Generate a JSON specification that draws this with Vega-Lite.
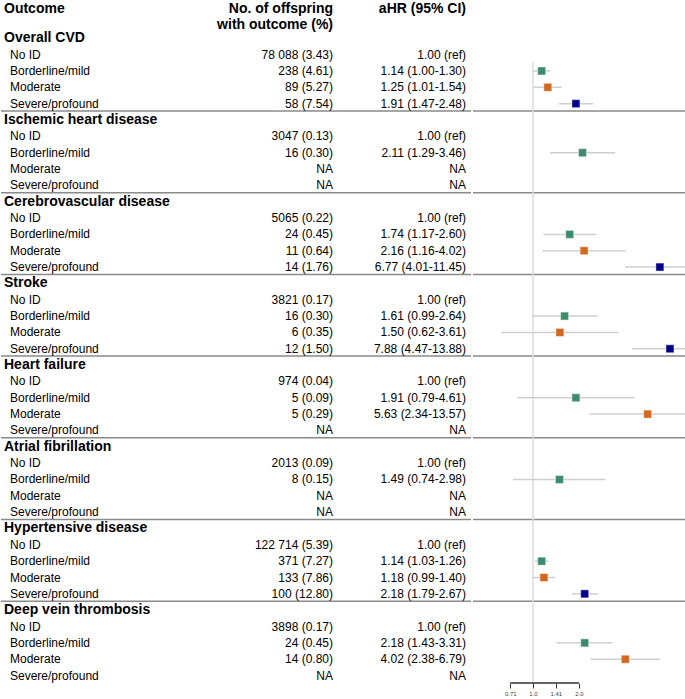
{
  "$schema": "https://vega.github.io/schema/vega-lite/v6.json",
  "padding": 0,
  "spacing": 0,
  "background": "white",
  "config": {"view": {"stroke": null}, "font": "Liberation Sans", "text": {"font": "Liberation Sans", "color": "#000"}},
  "datasets": {
    "rows": [
      {"row": 0, "kind": "head", "label": "Overall CVD"},
      {"row": 1, "kind": "sub", "label": "No ID", "n": "78 088 (3.43)", "ahr": "1.00 (ref)"},
      {"row": 2, "kind": "sub", "label": "Borderline/mild", "n": "238 (4.61)", "ahr": "1.14 (1.00-1.30)", "est": 1.14, "lo": 1.00, "hi": 1.30},
      {"row": 3, "kind": "sub", "label": "Moderate", "n": "89 (5.27)", "ahr": "1.25 (1.01-1.54)", "est": 1.25, "lo": 1.01, "hi": 1.54},
      {"row": 4, "kind": "sub", "label": "Severe/profound", "n": "58 (7.54)", "ahr": "1.91 (1.47-2.48)", "est": 1.91, "lo": 1.47, "hi": 2.48},
      {"row": 5, "kind": "head", "label": "Ischemic heart disease"},
      {"row": 6, "kind": "sub", "label": "No ID", "n": "3047 (0.13)", "ahr": "1.00 (ref)"},
      {"row": 7, "kind": "sub", "label": "Borderline/mild", "n": "16 (0.30)", "ahr": "2.11 (1.29-3.46)", "est": 2.11, "lo": 1.29, "hi": 3.46},
      {"row": 8, "kind": "sub", "label": "Moderate", "n": "NA", "ahr": "NA"},
      {"row": 9, "kind": "sub", "label": "Severe/profound", "n": "NA", "ahr": "NA"},
      {"row": 10, "kind": "head", "label": "Cerebrovascular disease"},
      {"row": 11, "kind": "sub", "label": "No ID", "n": "5065 (0.22)", "ahr": "1.00 (ref)"},
      {"row": 12, "kind": "sub", "label": "Borderline/mild", "n": "24 (0.45)", "ahr": "1.74 (1.17-2.60)", "est": 1.74, "lo": 1.17, "hi": 2.60},
      {"row": 13, "kind": "sub", "label": "Moderate", "n": "11 (0.64)", "ahr": "2.16 (1.16-4.02)", "est": 2.16, "lo": 1.16, "hi": 4.02},
      {"row": 14, "kind": "sub", "label": "Severe/profound", "n": "14 (1.76)", "ahr": "6.77 (4.01-11.45)", "est": 6.77, "lo": 4.01, "hi": 11.45},
      {"row": 15, "kind": "head", "label": "Stroke"},
      {"row": 16, "kind": "sub", "label": "No ID", "n": "3821 (0.17)", "ahr": "1.00 (ref)"},
      {"row": 17, "kind": "sub", "label": "Borderline/mild", "n": "16 (0.30)", "ahr": "1.61 (0.99-2.64)", "est": 1.61, "lo": 0.99, "hi": 2.64},
      {"row": 18, "kind": "sub", "label": "Moderate", "n": "6 (0.35)", "ahr": "1.50 (0.62-3.61)", "est": 1.50, "lo": 0.62, "hi": 3.61},
      {"row": 19, "kind": "sub", "label": "Severe/profound", "n": "12 (1.50)", "ahr": "7.88 (4.47-13.88)", "est": 7.88, "lo": 4.47, "hi": 13.88},
      {"row": 20, "kind": "head", "label": "Heart failure"},
      {"row": 21, "kind": "sub", "label": "No ID", "n": "974 (0.04)", "ahr": "1.00 (ref)"},
      {"row": 22, "kind": "sub", "label": "Borderline/mild", "n": "5 (0.09)", "ahr": "1.91 (0.79-4.61)", "est": 1.91, "lo": 0.79, "hi": 4.61},
      {"row": 23, "kind": "sub", "label": "Moderate", "n": "5 (0.29)", "ahr": "5.63 (2.34-13.57)", "est": 5.63, "lo": 2.34, "hi": 13.57},
      {"row": 24, "kind": "sub", "label": "Severe/profound", "n": "NA", "ahr": "NA"},
      {"row": 25, "kind": "head", "label": "Atrial fibrillation"},
      {"row": 26, "kind": "sub", "label": "No ID", "n": "2013 (0.09)", "ahr": "1.00 (ref)"},
      {"row": 27, "kind": "sub", "label": "Borderline/mild", "n": "8 (0.15)", "ahr": "1.49 (0.74-2.98)", "est": 1.49, "lo": 0.74, "hi": 2.98},
      {"row": 28, "kind": "sub", "label": "Moderate", "n": "NA", "ahr": "NA"},
      {"row": 29, "kind": "sub", "label": "Severe/profound", "n": "NA", "ahr": "NA"},
      {"row": 30, "kind": "head", "label": "Hypertensive disease"},
      {"row": 31, "kind": "sub", "label": "No ID", "n": "122 714 (5.39)", "ahr": "1.00 (ref)"},
      {"row": 32, "kind": "sub", "label": "Borderline/mild", "n": "371 (7.27)", "ahr": "1.14 (1.03-1.26)", "est": 1.14, "lo": 1.03, "hi": 1.26},
      {"row": 33, "kind": "sub", "label": "Moderate", "n": "133 (7.86)", "ahr": "1.18 (0.99-1.40)", "est": 1.18, "lo": 0.99, "hi": 1.40},
      {"row": 34, "kind": "sub", "label": "Severe/profound", "n": "100 (12.80)", "ahr": "2.18 (1.79-2.67)", "est": 2.18, "lo": 1.79, "hi": 2.67},
      {"row": 35, "kind": "head", "label": "Deep vein thrombosis"},
      {"row": 36, "kind": "sub", "label": "No ID", "n": "3898 (0.17)", "ahr": "1.00 (ref)"},
      {"row": 37, "kind": "sub", "label": "Borderline/mild", "n": "24 (0.45)", "ahr": "2.18 (1.43-3.31)", "est": 2.18, "lo": 1.43, "hi": 3.31},
      {"row": 38, "kind": "sub", "label": "Moderate", "n": "14 (0.80)", "ahr": "4.02 (2.38-6.79)", "est": 4.02, "lo": 2.38, "hi": 6.79},
      {"row": 39, "kind": "sub", "label": "Severe/profound", "n": "NA", "ahr": "NA"}
    ],
    "colhead": [
      {"row": -2, "outcome": "Outcome", "n": "No. of offspring", "ahr": "aHR (95% CI)"},
      {"row": -1, "outcome": "", "n": "with outcome (%)", "ahr": ""}
    ],
    "ref": [{"hr": 1}],
    "axisline": [{"from": 0.71, "to": 2.0}]
  },
  "hconcat": [
    {
      "width": 470,
      "height": 683,
      "layer": [
        {
          "data": {"name": "rows"},
          "transform": [{"filter": "datum.kind == 'head' && datum.row > 0"}],
          "mark": {"type": "rule", "color": "#8a8a8a", "strokeWidth": 1.5, "yOffset": -9},
          "encoding": {"y": {"field": "row", "type": "quantitative", "axis": null, "scale": {"domain": [-2.344, 39.456], "reverse": true, "nice": false, "zero": false}}}
        },
        {
          "data": {"name": "rows"},
          "transform": [{"filter": "datum.kind == 'head'"}],
          "mark": {"type": "text", "align": "left", "baseline": "middle", "fontSize": 14, "fontWeight": "bold", "x": 3},
          "encoding": {
            "y": {"field": "row", "type": "quantitative", "axis": null, "scale": {"domain": [-2.344, 39.456], "reverse": true, "nice": false, "zero": false}},
            "text": {"field": "label"}
          }
        },
        {
          "data": {"name": "rows"},
          "transform": [{"filter": "datum.kind == 'sub'"}],
          "mark": {"type": "text", "align": "left", "baseline": "middle", "fontSize": 12, "x": 9},
          "encoding": {
            "y": {"field": "row", "type": "quantitative", "axis": null, "scale": {"domain": [-2.344, 39.456], "reverse": true, "nice": false, "zero": false}},
            "text": {"field": "label"}
          }
        },
        {
          "data": {"name": "rows"},
          "transform": [{"filter": "datum.kind == 'sub'"}],
          "mark": {"type": "text", "align": "right", "baseline": "middle", "fontSize": 12, "x": 332},
          "encoding": {
            "y": {"field": "row", "type": "quantitative", "axis": null, "scale": {"domain": [-2.344, 39.456], "reverse": true, "nice": false, "zero": false}},
            "text": {"field": "n"}
          }
        },
        {
          "data": {"name": "rows"},
          "transform": [{"filter": "datum.kind == 'sub'"}],
          "mark": {"type": "text", "align": "right", "baseline": "middle", "fontSize": 12, "x": 465},
          "encoding": {
            "y": {"field": "row", "type": "quantitative", "axis": null, "scale": {"domain": [-2.344, 39.456], "reverse": true, "nice": false, "zero": false}},
            "text": {"field": "ahr"}
          }
        },
        {
          "data": {"name": "colhead"},
          "mark": {"type": "text", "align": "left", "baseline": "middle", "fontSize": 14, "fontWeight": "bold", "x": 3, "dy": 3},
          "encoding": {
            "y": {"field": "row", "type": "quantitative", "axis": null, "scale": {"domain": [-2.344, 39.456], "reverse": true, "nice": false, "zero": false}},
            "text": {"field": "outcome"}
          }
        },
        {
          "data": {"name": "colhead"},
          "mark": {"type": "text", "align": "right", "baseline": "middle", "fontSize": 14, "fontWeight": "bold", "x": 332, "dy": 3},
          "encoding": {
            "y": {"field": "row", "type": "quantitative", "axis": null, "scale": {"domain": [-2.344, 39.456], "reverse": true, "nice": false, "zero": false}},
            "text": {"field": "n"}
          }
        },
        {
          "data": {"name": "colhead"},
          "mark": {"type": "text", "align": "right", "baseline": "middle", "fontSize": 14, "fontWeight": "bold", "x": 465, "dy": 3},
          "encoding": {
            "y": {"field": "row", "type": "quantitative", "axis": null, "scale": {"domain": [-2.344, 39.456], "reverse": true, "nice": false, "zero": false}},
            "text": {"field": "ahr"}
          }
        }
      ]
    },
    {
      "width": 215,
      "height": 683,
      "layer": [
        {
          "data": {"name": "rows"},
          "transform": [{"filter": "datum.kind == 'head' && datum.row > 0"}],
          "mark": {"type": "rule", "color": "#8a8a8a", "strokeWidth": 1.5, "yOffset": -9},
          "encoding": {"y": {"field": "row", "type": "quantitative", "axis": null, "scale": {"domain": [-2.344, 39.456], "reverse": true, "nice": false, "zero": false}}}
        },
        {
          "data": {"name": "ref"},
          "mark": {"type": "rule", "color": "#dcdcdc", "strokeWidth": 1.5},
          "encoding": {
            "x": {"field": "hr", "type": "quantitative", "scale": {"type": "log", "domain": [0.405, 10.34], "nice": false, "clamp": true}, "axis": {"values": [0.71, 1, 1.41, 2], "domain": false, "grid": false, "tickSize": 5, "tickColor": "#333", "tickWidth": 1, "labelFontSize": 6, "labelColor": "#444", "labelPadding": 2, "title": null, "labelFont": "Liberation Sans", "labelExpr": "datum.value == 1 ? '1.0' : datum.value == 2 ? '2.0' : format(datum.value, '.2f')"}},
            "y": {"datum": 1.45, "type": "quantitative", "axis": null, "scale": {"domain": [-2.344, 39.456], "reverse": true, "nice": false, "zero": false}},
            "y2": {"datum": 39.456}
          }
        },
        {
          "data": {"name": "rows"},
          "transform": [{"filter": "isValid(datum.est)"}],
          "mark": {"type": "rule", "color": "#cfcfcf", "strokeWidth": 1.5},
          "encoding": {
            "x": {"field": "lo", "type": "quantitative"},
            "x2": {"field": "hi"},
            "y": {"field": "row", "type": "quantitative"}
          }
        },
        {
          "data": {"name": "rows"},
          "transform": [{"filter": "isValid(datum.hi) && datum.hi > 10.34"}],
          "mark": {"type": "point", "shape": "M-1,-0.8L0,0L-1,0.8", "filled": false, "stroke": "#b5b5b5", "strokeWidth": 1, "size": 25, "opacity": 1},
          "encoding": {
            "x": {"field": "hi", "type": "quantitative"},
            "y": {"field": "row", "type": "quantitative"}
          }
        },
        {
          "data": {"name": "rows"},
          "transform": [{"filter": "isValid(datum.est)"}],
          "mark": {"type": "point", "shape": "square", "filled": true, "size": 64, "opacity": 1, "stroke": "white", "strokeWidth": 1, "strokeOpacity": 0.45},
          "encoding": {
            "x": {"field": "est", "type": "quantitative"},
            "y": {"field": "row", "type": "quantitative"},
            "fill": {"field": "label", "type": "nominal", "legend": null, "scale": {"domain": ["Borderline/mild", "Moderate", "Severe/profound"], "range": ["#3d8c6f", "#d2691e", "#00008b"]}}
          }
        },
        {
          "data": {"name": "axisline"},
          "mark": {"type": "rule", "color": "#333333", "strokeWidth": 1.3},
          "encoding": {
            "x": {"field": "from", "type": "quantitative"},
            "x2": {"field": "to"},
            "y": {"datum": 39.456, "type": "quantitative"}
          }
        }
      ]
    }
  ]
}
